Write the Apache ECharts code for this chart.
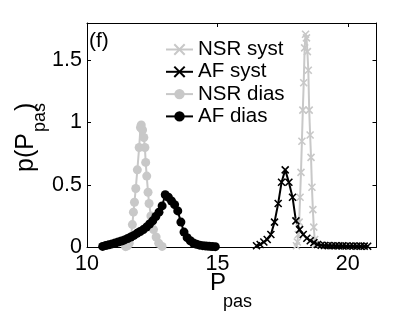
<!DOCTYPE html>
<html>
<head>
<meta charset="utf-8">
<script src="https://cdn.jsdelivr.net/npm/echarts@6/dist/echarts.min.js"></script>
<style>html,body{margin:0;padding:0;background:#fff;}#c{width:415px;height:313px;}</style>
</head>
<body>
<div id="c"></div>
<script>
var xTicks = [10, 15, 20];
var yTicks = [0, 0.5, 1, 1.5];
var seriesNames = ['NSR syst', 'AF syst', 'NSR dias', 'AF dias'];

var nsrSystX = [18.03,18.065,18.10,18.135,18.17,18.205,18.24,18.275,18.31,18.345,18.38,18.415,18.45,18.485,18.52,18.555,18.59,18.625,18.66,18.695,18.73,18.765];
var nsrSystY = [0.01,0.04,0.10,0.20,0.40,0.60,0.85,1.10,1.32,1.60,1.71,1.68,1.57,1.42,1.10,0.90,0.72,0.48,0.30,0.16,0.06,0.02];

var afSystX = [16.50,16.64,16.78,16.91,17.05,17.19,17.33,17.46,17.60,17.74,17.88,18.01,18.15,18.29,18.43,18.56,18.70,18.84,18.98,19.11,19.25,19.39,19.53,19.66,19.80,19.94,20.08,20.21,20.35,20.49,20.63,20.76];
var afSystY = [0.01,0.02,0.04,0.06,0.10,0.20,0.35,0.52,0.62,0.52,0.40,0.21,0.14,0.10,0.07,0.05,0.035,0.02,0.014,0.012,0.011,0.01,0.01,0.009,0.009,0.008,0.008,0.008,0.007,0.007,0.007,0.006];

var nsrDiasX = [11.48,11.55,11.62,11.68,11.74,11.78,11.82,11.87,11.93,12.00,12.05,12.08,12.13,12.18,12.22,12.25,12.29,12.34,12.38,12.45,12.55,12.65,12.75,12.88];
var nsrDiasY = [0.003,0.01,0.03,0.08,0.18,0.28,0.36,0.47,0.62,0.80,0.96,0.98,0.94,0.88,0.80,0.68,0.57,0.44,0.35,0.25,0.14,0.08,0.03,0.005];

var afDiasX = [10.60,10.72,10.84,10.96,11.08,11.20,11.32,11.44,11.56,11.68,11.80,11.92,12.04,12.16,12.28,12.40,12.52,12.64,12.76,12.88,13.00,13.12,13.24,13.36,13.48,13.60,13.72,13.84,13.96,14.08,14.20,14.32,14.44,14.56,14.68,14.80,14.92];
var afDiasY = [0.005,0.012,0.018,0.025,0.032,0.04,0.048,0.057,0.068,0.08,0.093,0.11,0.125,0.14,0.16,0.185,0.21,0.245,0.28,0.33,0.42,0.40,0.37,0.34,0.29,0.20,0.12,0.075,0.05,0.032,0.022,0.015,0.011,0.008,0.006,0.004,0.003];

function pairs(xs, ys) { return xs.map(function (x, i) { return [x, ys[i]]; }); }

var GREY = '#c8c8c8';
var BLACK = '#000000';
var CROSS = 'path://M0,0L10,10M10,0L0,10';
var FONT = 'Liberation Sans';

function mkSeries(name, data, color, isCross) {
  return {
    name: name, type: 'line', data: data,
    symbol: isCross ? CROSS : 'circle',
    symbolSize: isCross ? 7 : 9,
    showSymbol: true,
    lineStyle: { color: color, width: 2 },
    itemStyle: { color: color, borderColor: color, borderWidth: isCross ? 1.6 : 0 },
    emphasis: { disabled: true },
    animation: false,
    xAxisIndex: 0, yAxisIndex: 0
  };
}

var chart = echarts.init(document.getElementById('c'), null, { renderer: 'canvas' });
var axisCommon = {
  axisLine: { show: true, onZero: false, lineStyle: { color: '#000', width: 1 } },
  axisTick: { show: true, inside: true, length: 4, lineStyle: { color: '#000' } },
  splitLine: { show: false }
};
chart.setOption({
  animation: false,
  textStyle: { fontFamily: FONT },
  grid: { left: 87, right: 38.5, top: 23, bottom: 66, containLabel: false },
  legend: {
    orient: 'vertical', left: 160, top: 34,
    itemWidth: 27, itemHeight: 13, itemGap: 1.3,
    data: seriesNames,
    textStyle: { fontFamily: FONT, fontSize: 20.5, color: '#000', lineHeight: 21 },
    selectedMode: false
  },
  xAxis: [
    Object.assign({ type: 'value', min: 10, max: 21.1, interval: 5, position: 'bottom',
      axisLabel: { fontFamily: FONT, fontSize: 21.5, color: '#000', margin: 6, showMaxLabel: false,
        formatter: function (v) { return xTicks.indexOf(v) >= 0 ? String(v) : ''; } } }, axisCommon),
    Object.assign({ type: 'value', min: 10, max: 21.1, interval: 5, position: 'top',
      axisLabel: { show: false } }, axisCommon)
  ],
  yAxis: [
    Object.assign({ type: 'value', min: 0, max: 1.8, interval: 0.5, position: 'left',
      axisLabel: { fontFamily: FONT, fontSize: 21.5, color: '#000', margin: 5, showMaxLabel: false,
        formatter: function (v) { return yTicks.indexOf(v) >= 0 ? String(v) : ''; } } }, axisCommon),
    Object.assign({ type: 'value', min: 0, max: 1.8, interval: 0.5, position: 'right',
      axisLabel: { show: false } }, axisCommon)
  ],
  series: [
    mkSeries(seriesNames[0], pairs(nsrSystX, nsrSystY), GREY, true),
    mkSeries(seriesNames[1], pairs(afSystX, afSystY), BLACK, true),
    mkSeries(seriesNames[2], pairs(nsrDiasX, nsrDiasY), GREY, false),
    mkSeries(seriesNames[3], pairs(afDiasX, afDiasY), BLACK, false)
  ],
  graphic: [
    { type: 'text', left: 89, top: 31, style: { text: '(f)', fontFamily: FONT, fontSize: 21, fill: '#000' } },
    { type: 'text', x: 210, y: 283, style: { text: 'P', fontFamily: FONT, fontSize: 24, fill: '#000', align: 'left', verticalAlign: 'middle' } },
    { type: 'text', x: 223, y: 302, style: { text: 'pas', fontFamily: FONT, fontSize: 18, fill: '#000', align: 'left', verticalAlign: 'middle' } },
    { type: 'group', x: 26, y: 172, rotation: Math.PI / 2, children: [
      { type: 'text', x: 0, y: 0, style: { text: 'p(P', fontFamily: FONT, fontSize: 25, fill: '#000', align: 'left', verticalAlign: 'middle' } },
      { type: 'text', x: 40, y: 14, style: { text: 'pas', fontFamily: FONT, fontSize: 18, fill: '#000', align: 'left', verticalAlign: 'middle' } },
      { type: 'text', x: 61, y: 0, style: { text: ')', fontFamily: FONT, fontSize: 25, fill: '#000', align: 'left', verticalAlign: 'middle' } }
    ] }
  ]
});
</script>
</body>
</html>
